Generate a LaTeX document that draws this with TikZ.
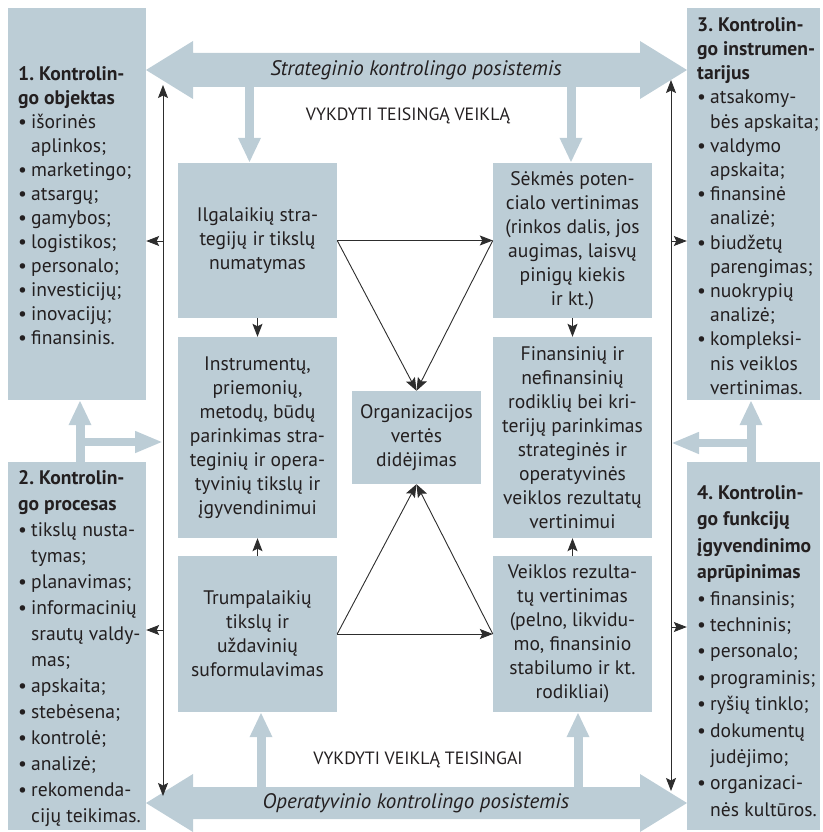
\documentclass[tikz,border=0pt]{standalone}
\usepackage{fontspec}
\setmainfont{PT Sans}
\usetikzlibrary{arrows.meta}

\definecolor{panel}{RGB}{188,205,214}
\definecolor{ink}{RGB}{35,31,32}
\definecolor{wire}{RGB}{45,45,45}

\newcommand\bitem{\makebox[13pt][l]{\textbullet}}
\newcommand\bcont{\hspace*{13pt}}

\tikzset{
  panelbox/.style={fill=panel, draw=none, inner sep=0pt, text=ink, font=\fontsize{19.6}{24}\selectfont\frenchspacing},
  sidebox/.style={fill=panel, draw=none, inner sep=0pt, minimum width=138pt},
  sidetext/.style={inner sep=0pt, anchor=west, align=left, text=ink, font=\fontsize{19.6}{24}\selectfont\frenchspacing},
  midbox/.style={panelbox, minimum width=159pt, align=center},
  fatarrow/.style={draw=panel, line width=9pt, -{Triangle[length=25pt,width=21pt]}},
  tip/.tip={Stealth[length=13pt,width=10pt,inset=2.5pt]},
  thinarrow/.style={draw=wire, line width=0.9pt, -tip},
  banner/.style={fill=panel, draw=none},
  capsnote/.style={text=ink, font=\fontsize{17.8}{20}\selectfont},
  bannertext/.style={text=ink, font=\fontsize{21}{24}\selectfont\itshape}
}

\begin{document}
\begin{tikzpicture}[x=1pt,y=-1pt]
\useasboundingbox (0,0) rectangle (822,832);

% side panels
\node[sidebox, minimum height=392pt] (b1) at (77,204) {};
\node[sidebox, minimum height=368pt] (b2) at (77,646) {};
\node[sidebox, minimum width=133pt, minimum height=392pt] (b3) at (753.5,204) {};
\node[sidebox, minimum width=133pt, minimum height=368pt] (b4) at (753.5,646) {};

\node[sidetext] (t1) at (18,206) {%
  \textbf{1. Kontrolin-}\\
  \textbf{go objektas}\\
  \bitem išorinės\\
  \bcont aplinkos;\\
  \bitem marketingo;\\
  \bitem atsargų;\\
  \bitem gamybos;\\
  \bitem logistikos;\\
  \bitem personalo;\\
  \bitem investicijų;\\
  \bitem inovacijų;\\
  \bitem finansinis.};

\node[sidetext, font=\fontsize{19.6}{26}\selectfont\frenchspacing] (t2) at (18,649) {%
  \textbf{2. Kontrolin-}\\
  \textbf{go procesas}\\
  \bitem tikslų nusta-\\
  \bcont tymas;\\
  \bitem planavimas;\\
  \bitem informacinių\\
  \bcont srautų valdy-\\
  \bcont mas;\\
  \bitem apskaita;\\
  \bitem stebėsena;\\
  \bitem kontrolė;\\
  \bitem analizė;\\
  \bitem rekomenda-\\
  \bcont cijų teikimas.};

\node[sidetext, font=\fontsize{19.6}{24.2}\selectfont\frenchspacing] (t3) at (697,206) {%
  \textbf{3. Kontrolin-}\\
  \textbf{go instrumen-}\\
  \textbf{tarijus}\\
  \bitem atsakomy-\\
  \bcont bės apskaita;\\
  \bitem valdymo\\
  \bcont apskaita;\\
  \bitem finansinė\\
  \bcont analizė;\\
  \bitem biudžetų\\
  \bcont parengimas;\\
  \bitem nuokrypių\\
  \bcont analizė;\\
  \bitem kompleksi-\\
  \bcont nis veiklos\\
  \bcont vertinimas.};

\node[sidetext, font=\fontsize{19.6}{26.4}\selectfont\frenchspacing] (t4) at (697,651) {%
  \textbf{4. Kontrolin-}\\
  \textbf{go funkcijų}\\
  \textbf{įgyvendinimo}\\
  \textbf{aprūpinimas}\\
  \bitem finansinis;\\
  \bitem techninis;\\
  \bitem personalo;\\
  \bitem programinis;\\
  \bitem ryšių tinklo;\\
  \bitem dokumentų\\
  \bcont judėjimo;\\
  \bitem organizaci-\\
  \bcont nės kultūros.};

% central blocks
\node[midbox, minimum height=155pt] (c1) at (257.5,240.5)
  {Ilgalaikių stra-\\tegijų ir tikslų\\numatymas};
\node[midbox, minimum height=201pt] (c2) at (257.5,437.5)
  {Instrumentų,\\priemonių,\\metodų, būdų\\parinkimas stra-\\teginių ir opera-\\tyvinių tikslų ir\\įgyvendinimui};
\node[midbox, minimum height=156pt] (c3) at (257.5,634)
  {Trumpalaikių\\tikslų ir\\uždavinių\\suformulavimas};
\node[midbox, minimum height=155pt] (r1) at (572.5,240.5)
  {Sėkmės poten-\\cialo vertinimas\\(rinkos dalis, jos\\augimas, laisvų\\pinigų kiekis\\ir kt.)};
\node[midbox, minimum height=201pt] (r2) at (572.5,437.5)
  {Finansinių ir\\nefinansinių\\rodiklių bei kri-\\terijų parinkimas\\strateginės ir\\operatyvinės\\veiklos rezultatų\\vertinimui};
\node[midbox, minimum height=156pt] (r3) at (572.5,634)
  {Veiklos rezulta-\\tų vertinimas\\(pelno, likvidu-\\mo, finansinio\\stabilumo ir kt.\\rodikliai)};
\node[midbox, minimum width=129pt, minimum height=93pt] (m) at (416.5,437.5)
  {Organizacijos\\vertės\\didėjimas};

% strategic and operative subsystem banners
\fill[banner] (146,70) -- (193,41) -- (193,53) -- (640,53) -- (640,41) -- (687,70)
  -- (640,99) -- (640,87) -- (193,87) -- (193,99) -- cycle;
\fill[banner] (146,803) -- (193,774) -- (193,787) -- (640,787) -- (640,774) -- (687,803)
  -- (640,832) -- (640,819) -- (193,819) -- (193,832) -- cycle;
\node[bannertext] (top) at (416,70) {Strateginio kontrolingo posistemis};
\node[bannertext] (bot) at (416,803) {Operatyvinio kontrolingo posistemis};

\node[capsnote] (doright) at (408,116) {VYKDYTI TEISINGĄ VEIKLĄ};
\node[capsnote] (doitright) at (418,760) {VYKDYTI VEIKLĄ TEISINGAI};

% wide arrows from and to the banners
\coordinate (sd1) at (249.5,87);
\coordinate (sd2) at (571,87);
\coordinate (su1) at (261,787);
\coordinate (su2) at (578,787);
\draw[fatarrow] (sd1) -- (sd1 |- c1.north);
\draw[fatarrow] (sd2) -- (sd2 |- r1.north);
\draw[fatarrow] (su1) -- (su1 |- c3.south);
\draw[fatarrow] (su2) -- (su2 |- r3.south);

% feedback between side panels
\coordinate (lf) at (80,462);
\coordinate (rf) at (751,462);
\draw[fatarrow] (lf) -- (lf |- b1.south);
\draw[fatarrow] (rf) -- (rf |- b3.south);
\coordinate (lt) at (163,85);
\coordinate (lb) at (163,796);
\coordinate (rt) at (671,80);
\coordinate (rb) at (671,791);
\draw[fatarrow, line width=8pt, -{Triangle[length=28pt,width=20pt]}] (76,442) -- (lt |- 0,442);
\draw[fatarrow, line width=8pt, -{Triangle[length=28pt,width=20pt]}] (755,443) -- (rt |- 0,443);

% thin vertical links along the panels
\draw[thinarrow, tip-tip] (lt) -- (lb);
\draw[thinarrow, tip-tip] (rt) -- (rb);
\coordinate (l1) at (163,241);
\coordinate (l2) at (163,630);
\coordinate (r1p) at (671,241);
\coordinate (r2p) at (671,627);
\draw[thinarrow] (l1) -- (l1 -| b1.east);
\draw[thinarrow] (l2) -- (l2 -| b2.east);
\draw[thinarrow] (r1p) -- (r1p -| b3.west);
\draw[thinarrow] (r2p) -- (r2p -| b4.west);

% central links
\draw[thinarrow] (c1.east) -- (r1.west);
\draw[thinarrow] (c1.east) -- (m.north);
\draw[thinarrow] (r1.west) -- (m.north);
\draw[thinarrow] (c3.east) -- (r3.west);
\draw[thinarrow] (c3.east) -- (m.south);
\draw[thinarrow] (r3.west) -- (m.south);
\draw[thinarrow] (c1.south) -- (c2.north);
\draw[thinarrow] (c3.north) -- (c2.south);
\draw[thinarrow] (r1.south) -- (r2.north);
\draw[thinarrow] (r3.north) -- (r2.south);
\end{tikzpicture}
\end{document}
